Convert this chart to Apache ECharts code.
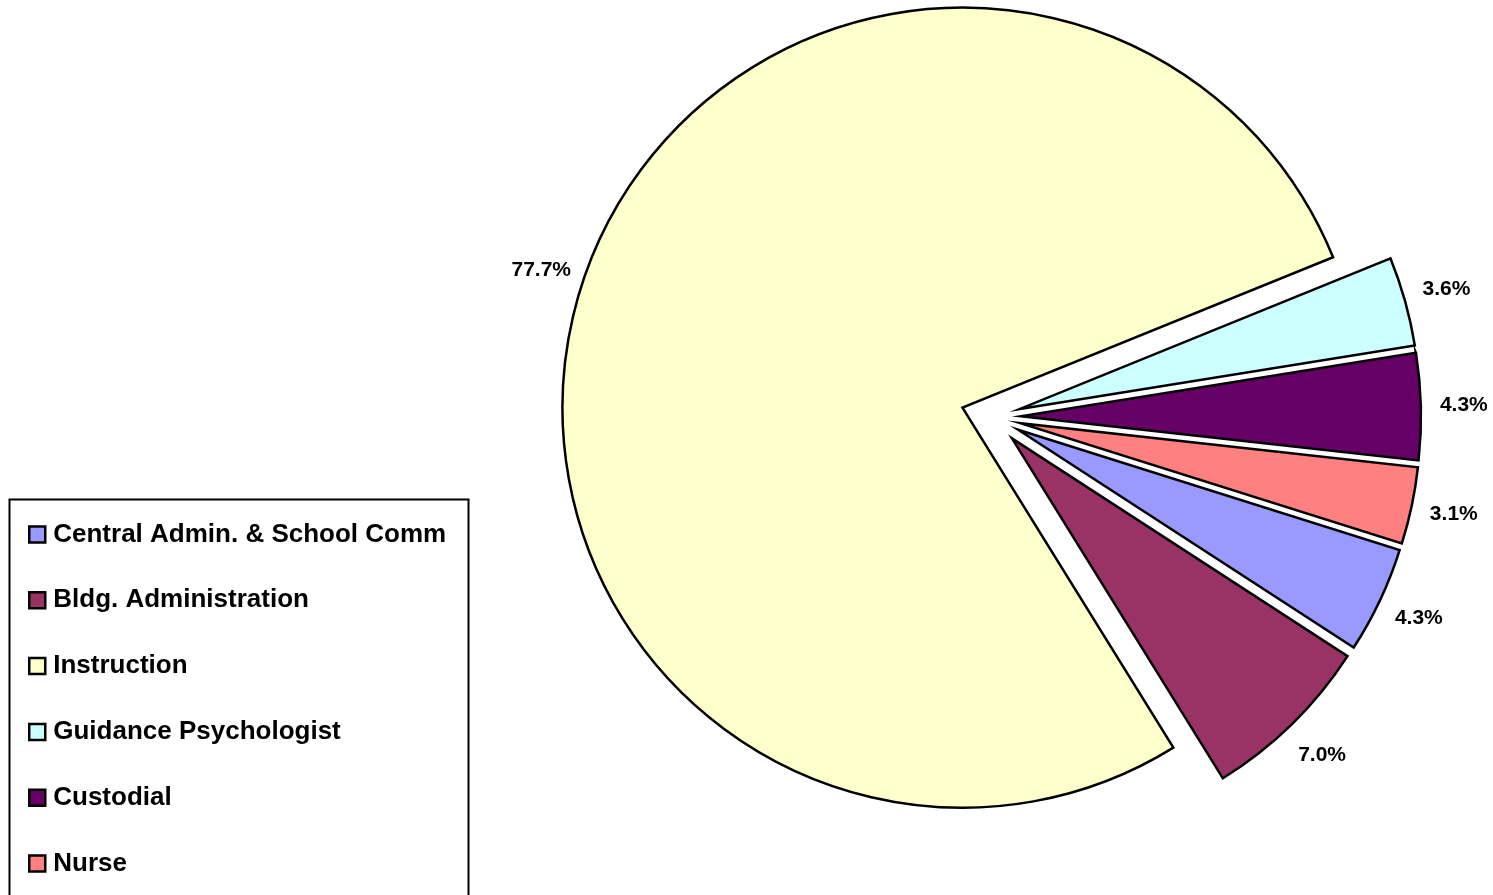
<!DOCTYPE html>
<html>
<head>
  <meta charset="UTF-8">
  <script src="https://cdn.jsdelivr.net/npm/echarts@6/dist/echarts.min.js"></script>
  <style>
    html, body { margin: 0; padding: 0; background: #fff; }
    #main { width: 1493px; height: 895px; }
  </style>
</head>
<body>
  <div id="main"></div>
  <script>
    // legend order = data order (clockwise from startAngle)
    var categories = ['Central Admin. & School Comm', 'Bldg. Administration', 'Instruction',
                      'Guidance Psychologist', 'Custodial', 'Nurse'];
    var shares = [4.3, 7.0, 77.7, 3.6, 4.3, 3.1];
    var palette = ['#9999FF', '#993366', '#FFFFCC', '#CCFFFF', '#660066', '#FF8080'];

    var font = "'Liberation Sans', Arial, sans-serif";

    function buildData() {
      return categories.map(function (name, i) {
        return { name: name, value: shares[i], selected: true };
      });
    }

    var myChart = echarts.init(document.getElementById('main'));

    myChart.setOption({
      animation: false,
      backgroundColor: '#fff',
      color: palette,
      legend: {
        orient: 'vertical',
        left: 28,
        top: 521.5,
        padding: 0,
        itemGap: 39.8,
        itemWidth: 16,
        itemHeight: 16,
        icon: 'rect',
        selectedMode: false,
        itemStyle: { borderColor: '#000', borderWidth: 2.5 },
        textStyle: {
          fontFamily: font, fontWeight: 'bold', fontSize: 26, color: '#000',
          lineHeight: 26, padding: [0, 0, 0, 3]
        },
        data: categories
      },
      graphic: [{
        type: 'rect',
        silent: true,
        shape: { x: 9.5, y: 499.5, width: 459, height: 460 },
        style: { fill: 'none', stroke: '#000', lineWidth: 2 }
      }],
      series: [
        {
          // the slices, all pulled out a little
          name: 'share',
          type: 'pie',
          center: [991, 417],
          radius: [0, 400],
          startAngle: -17.5,
          selectedMode: 'multiple',
          selectedOffset: 30,
          label: { show: false },
          labelLine: { show: false },
          itemStyle: { borderColor: '#000', borderWidth: 2.5, borderJoin: 'miter', borderMiterLimit: 20 },
          emphasis: { disabled: true },
          select: { itemStyle: { borderColor: '#000', borderWidth: 2.5 } },
          data: buildData()
        },
        {
          // transparent ring that only carries the percentage labels
          name: 'labels',
          type: 'pie',
          silent: true,
          center: [991, 417],
          radius: [439, 441],
          startAngle: -17.5,
          selectedMode: 'multiple',
          selectedOffset: 30,
          itemStyle: { color: 'rgba(0,0,0,0)', borderWidth: 0 },
          label: {
            show: true,
            position: 'inside',
            rotate: 0,
            padding: [9, 0, 0, 0],
            color: '#000',
            fontFamily: font,
            fontWeight: 'bold',
            fontSize: 21,
            formatter: function (p) { return p.value.toFixed(1) + '%'; }
          },
          labelLine: { show: false },
          emphasis: { disabled: true },
          select: { itemStyle: { color: 'rgba(0,0,0,0)', borderWidth: 0 } },
          data: buildData()
        }
      ]
    });
  </script>
</body>
</html>
